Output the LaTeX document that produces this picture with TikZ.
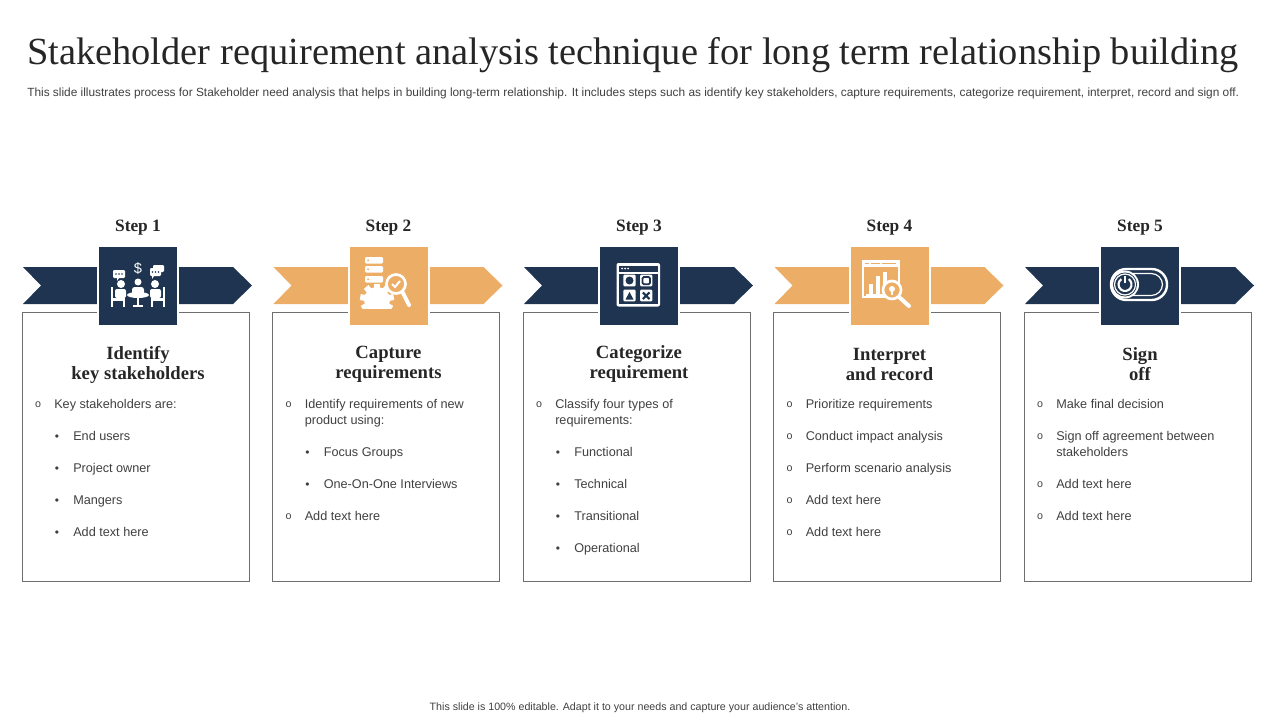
\documentclass[tikz,border=0pt]{standalone}
\usepackage{fontspec}
\setmainfont{Liberation Serif}
\setsansfont{Liberation Sans}
\definecolor{navy}{HTML}{1E3450}
\definecolor{sand}{HTML}{ECAD66}
\definecolor{txtgray}{HTML}{404040}
\definecolor{boxgray}{HTML}{6E6E6E}
\definecolor{headdark}{HTML}{262626}

\begin{document}
\begin{tikzpicture}[x=0.75pt,y=-0.75pt,
    tile/.style={fill=#1, draw=white, line width=1.5pt, minimum size=60pt, inner sep=0pt},
    card/.style={draw=boxgray, line width=0.6pt, minimum width=170.25pt, minimum height=201.75pt, inner sep=0pt},
    steplabel/.style={font=\bfseries\fontsize{13}{15}\selectfont, text=headdark},
    heading/.style={font=\bfseries\fontsize{14}{15}\selectfont, text=headdark, align=center},
    itm/.style={anchor=base west, font=\sffamily\fontsize{9.5}{12}\selectfont, text=txtgray, inner sep=0pt},
    bulo/.style={anchor=base, font=\sffamily\fontsize{8}{8}\selectfont, text=txtgray, inner sep=0pt},
    buld/.style={anchor=base, font=\sffamily\fontsize{9}{9}\selectfont, text=txtgray, inner sep=0pt}
]
\useasboundingbox (0,0) rectangle (1280,720);

% Title
\node[anchor=base west, inner sep=0pt, font=\fontsize{28.8}{32}\selectfont, text=headdark] (title) at (27,65)
    {Stakeholder requirement analysis technique for long term relationship building};
\node[anchor=base west, inner sep=0pt, font=\sffamily\fontsize{8.9}{10}\selectfont, text=txtgray] (subtitle) at (27,97)
    {This slide illustrates process for Stakeholder need analysis that helps in building long-term relationship. It includes steps such as identify key stakeholders, capture requirements, categorize requirement, interpret, record and sign off.};

% Arrows, cards and tiles
\foreach \i/\col in {1/navy,2/sand,3/navy,4/sand,5/navy}{
    \begin{scope}[shift={(250.5*\i-250.5,0)}]
        \fill[\col] (23,267) -- (233,267) -- (252,285.5) -- (233,304) -- (23,304) -- (41,285.5) -- cycle;
        \node[card] (card\i) at (135.5,446.5) {};
        \node[tile=\col] (tile\i) at (138,286) {};
        \node[steplabel] (step\i) at (138,228) {Step \i};
    \end{scope}
}

% Headings
\foreach \i/\h in {1/{Identify\\key stakeholders},2/{Capture\\requirements},3/{Categorize\\requirement},
                   4/{Interpret\\and record},5/{Sign\\off}}
    \node[heading] (head\i) at (250.5*\i-112.5,364.5) {\h};

% Items
\foreach \i/\lst in {
    1/{1/403/Key stakeholders are:, 2/435/End users, 2/467/Project owner, 2/499/Mangers, 2/531/Add text here},
    2/{1/403/Identify requirements of new, 0/419/product using:, 2/451/Focus Groups, 2/483/One-On-One Interviews, 1/515/Add text here},
    3/{1/403/Classify four types of, 0/419/requirements:, 2/451/Functional, 2/483/Technical, 2/515/Transitional, 2/547/Operational},
    4/{1/403/Prioritize requirements, 1/435/Conduct impact analysis, 1/467/Perform scenario analysis, 1/499/Add text here, 1/531/Add text here},
    5/{1/403/Make final decision, 1/435/Sign off agreement between, 0/451/stakeholders, 1/483/Add text here, 1/515/Add text here}}{
    \begin{scope}[shift={(250.5*\i-250.5,0)}]
        \foreach \lv/\y/\t [count=\k] in \lst {
            \ifcase\lv
                \node[itm] (c\i-t\k) at (54,\y+5) {\t};
            \or
                \node[bulo] (c\i-b\k) at (38,\y+4) {o};
                \node[itm] (c\i-t\k) at (54,\y+5) {\t};
            \or
                \node[buld] (c\i-b\k) at (57,\y+5) {\textbullet};
                \node[itm] (c\i-t\k) at (73,\y+5) {\t};
            \fi
        }
    \end{scope}
}

% Icon 1: meeting
\begin{scope}[shift={(138,286)}]
    \node[text=white, inner sep=0pt, font=\sffamily\fontsize{11}{11}\selectfont] (dollar) at (0,-17) {\$};
    \fill[white, rounded corners=0.8pt] (-25,-16) rectangle (-13,-8);
    \fill[white] (-21,-8) -- (-19,-8) -- (-21,-5) -- cycle;
    \fill[white, rounded corners=0.8pt] (15,-21) rectangle (26,-14);
    \fill[white, rounded corners=0.8pt] (12,-18) rectangle (23,-10);
    \fill[white] (14,-10) -- (16,-10) -- (14,-7) -- cycle;
    \foreach \x in {-22,-19,-16} \fill[navy] (\x,-12) circle (0.9);
    \foreach \x in {14.5,17.5,20.5} \fill[navy] (\x,-14) circle (0.9);
    \fill[white] (0,-4) circle (3.5);
    \fill[white] (-17,-2) circle (4);
    \fill[white] (17,-2) circle (4);
    \fill[white, rounded corners=2pt] (-6,1) rectangle (6,9);
    \fill[white] (0,9) ellipse (11 and 3);
    \fill[white] (-1,11) rectangle (1,19);
    \fill[white] (-5,18.5) rectangle (5,20.5);
    \foreach \s in {1,-1}{
        \fill[white] (-27*\s,1) rectangle (-25*\s,21);
        \fill[white, rounded corners=1.5pt] (-23*\s,3) rectangle (-12*\s,12);
        \fill[white] (-25*\s,12) rectangle (-13*\s,14.5);
        \fill[white] (-15*\s,14.5) rectangle (-13*\s,21);
    }
\end{scope}

% Icon 2: server, gear and magnifier
\begin{scope}[shift={(388,286)}]
    \foreach \y in {-29,-20,-10}{
        \fill[white, rounded corners=0.8pt] (-23,\y) rectangle (-5,\y+6.5);
        \fill[sand] (-20,\y+3.25) circle (1);
    }
    \begin{scope}
        \clip (-30,-2) rectangle (10,22);
        \fill[white] (-11,14) circle (13);
        \foreach \a in {0,40,...,320}
            \fill[white, rotate around={\a:(-11,14)}] (-14,-3) rectangle (-8,14);
    \end{scope}
    \fill[sand] (8,-2) circle (9);
    \draw[white, line width=2pt] (8,-2) circle (9.5);
    \draw[white, line width=1.5pt] (4,-2) -- (7,1) -- (12,-5);
    \draw[white, line width=3pt, line cap=round] (14.5,6) -- (21,19);
\end{scope}

% Icon 3: window with shapes
\begin{scope}[shift={(638,286)}]
    \fill[white, rounded corners=1.5pt] (-21.5,-23) rectangle (22,20.5);
    \fill[navy] (-19,-20.5) rectangle (19.5,-14.5);
    \fill[navy] (-19,-12.5) rectangle (19.5,18);
    \foreach \x in {-16,-13,-10} \fill[white] (\x,-17.5) circle (1);
    \foreach \x/\y in {-14.7/-11.3,2/-11.3,-14.7/3.7,2/3.7}
        \fill[white, rounded corners=0.8pt] (\x,\y) rectangle (\x+12.3,\y+11.6);
    \fill[navy] (-8.5,-5.5) circle (4);
    \draw[navy, line width=1.3pt, rounded corners=1pt] (4.5,-9) rectangle (12,-1.8);
    \fill[navy] (-12.5,13.5) -- (-4.5,13.5) -- (-8.5,6) -- cycle;
    \draw[navy, line width=1.6pt] (4.8,6.5) -- (11.5,13) (4.8,13) -- (11.5,6.5);
\end{scope}

% Icon 4: chart and magnifier
\begin{scope}[shift={(888,286)}]
    \fill[white] (-26,-26) rectangle (12,12);
    \fill[sand] (-24,-19) rectangle (10,10);
    \draw[sand, line width=0.8pt] (-23,-22.5) -- (-19,-22.5) (-17,-22.5) -- (-8,-22.5) (-6,-22.5) -- (8,-22.5);
    \fill[white] (-19,-2) rectangle (-15,8);
    \fill[white] (-12,-10) rectangle (-8,8);
    \fill[white] (-5,-14) rectangle (-1,4);
    \fill[white] (-22,8) rectangle (4,9.5);
    \fill[sand] (4,4) circle (9);
    \draw[white, line width=2pt] (4,4) circle (9);
    \fill[white] (4,3) circle (3);
    \fill[white] (3,6) rectangle (5,8.5);
    \draw[white, line width=3pt, line cap=round] (11,11) -- (21,20);
\end{scope}

% Icon 5: toggle switch
\begin{scope}[shift={(1138,286)}]
    \draw[white, line width=1.8pt, rounded corners=11.5pt] (-27,-17) rectangle (29,14);
    \draw[white, line width=0.9pt, rounded corners=8.5pt] (-22.5,-12.5) rectangle (24.5,9.5);
    \fill[white] (-13,-1.5) circle (14);
    \fill[navy] (-13,-1.5) circle (12);
    \draw[white, line width=0.9pt] (-13,-1.5) circle (10.5);
    \draw[white, line width=1.6pt] (-9.27,-6.82) arc (-55:235:6.5);
    \draw[white, line width=1.6pt] (-13,-10) -- (-13,-3);
\end{scope}

% Footer
\node[inner sep=0pt, font=\sffamily\fontsize{8}{9}\selectfont, text=txtgray] (footer) at (640,708)
    {This slide is 100\% editable. Adapt it to your needs and capture your audience's attention.};
\end{tikzpicture}
\end{document}
